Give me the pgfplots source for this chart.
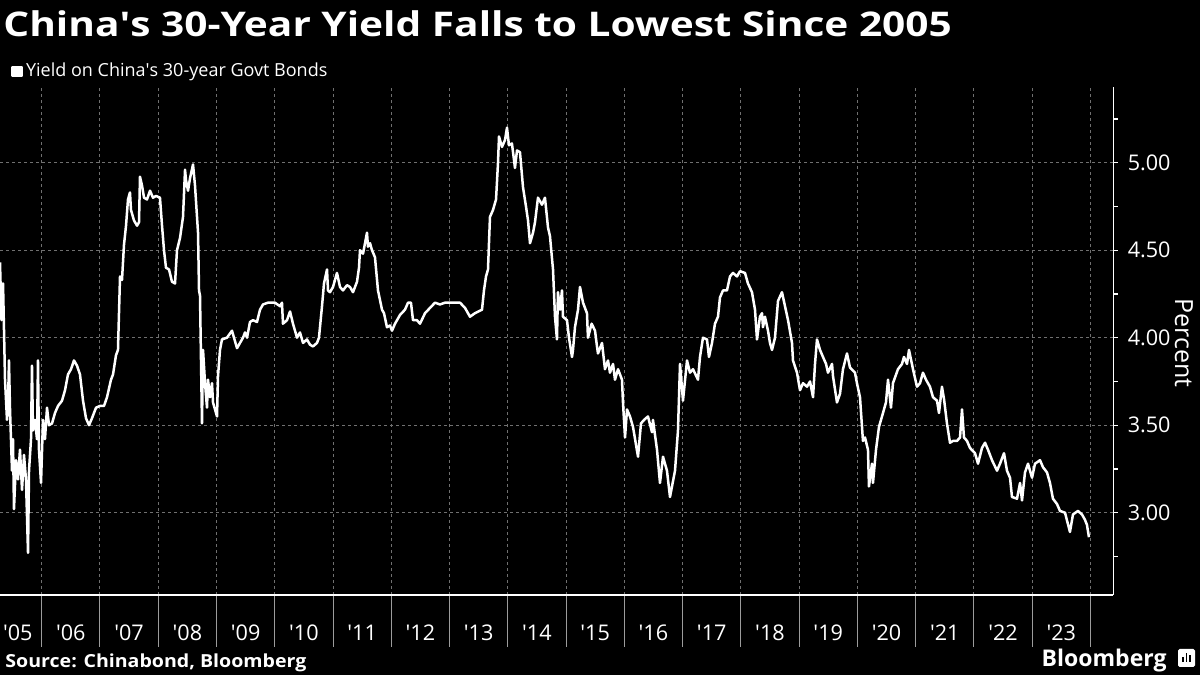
\documentclass[border=0pt]{standalone}
\usepackage{fontspec}
\setmainfont{Open Sans}
\usepackage{pgfplots}
\pgfplotsset{compat=1.18}
\usepackage{pgfplotstable}

\definecolor{gridgray}{HTML}{707070}
\definecolor{tickgray}{HTML}{9C9C9C}

\pgfplotstableread{
year yld
2005.284 4.43
2005.310 4.10
2005.336 4.31
2005.353 4.04
2005.370 3.76
2005.404 3.53
2005.421 3.61
2005.438 3.87
2005.456 3.59
2005.490 3.24
2005.507 3.42
2005.524 3.02
2005.559 3.30
2005.593 3.19
2005.627 3.36
2005.662 3.13
2005.696 3.33
2005.730 3.19
2005.765 2.77
2005.782 3.24
2005.816 3.42
2005.833 3.84
2005.850 3.47
2005.885 3.53
2005.919 3.42
2005.936 3.87
2005.953 3.36
2005.988 3.17
2006.022 3.53
2006.056 3.42
2006.091 3.60
2006.125 3.50
2006.177 3.51
2006.228 3.57
2006.280 3.61
2006.348 3.64
2006.400 3.70
2006.451 3.79
2006.503 3.82
2006.554 3.87
2006.606 3.84
2006.657 3.79
2006.709 3.64
2006.760 3.54
2006.812 3.50
2006.863 3.54
2006.932 3.60
2007.000 3.61
2007.069 3.61
2007.121 3.66
2007.189 3.76
2007.224 3.79
2007.275 3.90
2007.309 3.93
2007.344 4.35
2007.378 4.33
2007.412 4.53
2007.447 4.64
2007.481 4.79
2007.515 4.83
2007.532 4.73
2007.584 4.67
2007.636 4.64
2007.670 4.66
2007.687 4.92
2007.721 4.87
2007.756 4.80
2007.807 4.79
2007.859 4.84
2007.910 4.80
2007.962 4.81
2008.030 4.80
2008.065 4.64
2008.099 4.50
2008.133 4.40
2008.185 4.39
2008.236 4.32
2008.288 4.31
2008.322 4.50
2008.374 4.57
2008.425 4.69
2008.460 4.96
2008.477 4.90
2008.511 4.84
2008.545 4.91
2008.597 4.99
2008.631 4.87
2008.683 4.60
2008.700 4.27
2008.717 4.24
2008.751 3.51
2008.769 3.93
2008.803 3.74
2008.837 3.60
2008.854 3.76
2008.889 3.66
2008.923 3.74
2008.940 3.63
2009.009 3.55
2009.026 3.78
2009.060 3.93
2009.094 3.99
2009.180 4.00
2009.266 4.04
2009.352 3.94
2009.403 3.97
2009.455 4.00
2009.489 4.03
2009.524 4.00
2009.575 4.09
2009.627 4.10
2009.695 4.09
2009.747 4.16
2009.798 4.19
2009.884 4.20
2010.004 4.20
2010.090 4.18
2010.124 4.20
2010.141 4.08
2010.210 4.10
2010.262 4.15
2010.313 4.08
2010.382 4.00
2010.433 4.03
2010.485 3.97
2010.553 3.99
2010.605 3.96
2010.656 3.95
2010.725 3.97
2010.759 4.00
2010.811 4.18
2010.845 4.31
2010.897 4.39
2010.914 4.27
2010.948 4.26
2011.000 4.29
2011.068 4.37
2011.120 4.29
2011.171 4.27
2011.240 4.30
2011.291 4.29
2011.343 4.26
2011.412 4.32
2011.446 4.40
2011.463 4.50
2011.515 4.48
2011.583 4.60
2011.600 4.52
2011.635 4.54
2011.669 4.50
2011.720 4.46
2011.772 4.27
2011.841 4.16
2011.875 4.14
2011.926 4.06
2011.978 4.07
2012.012 4.04
2012.064 4.08
2012.150 4.13
2012.235 4.16
2012.287 4.20
2012.338 4.20
2012.373 4.10
2012.441 4.10
2012.493 4.08
2012.579 4.14
2012.664 4.17
2012.750 4.20
2012.836 4.19
2012.922 4.20
2013.059 4.20
2013.180 4.20
2013.266 4.17
2013.351 4.12
2013.437 4.14
2013.557 4.16
2013.591 4.27
2013.626 4.35
2013.660 4.39
2013.694 4.69
2013.746 4.73
2013.798 4.79
2013.832 5.00
2013.849 5.15
2013.900 5.09
2013.952 5.13
2013.986 5.20
2014.020 5.10
2014.071 5.11
2014.123 4.97
2014.158 5.07
2014.209 5.06
2014.261 4.86
2014.312 4.75
2014.347 4.67
2014.381 4.54
2014.433 4.60
2014.467 4.66
2014.518 4.80
2014.587 4.76
2014.638 4.80
2014.690 4.63
2014.724 4.58
2014.776 4.39
2014.810 4.12
2014.844 3.99
2014.861 4.26
2014.896 4.16
2014.930 4.27
2014.947 4.12
2015.016 4.10
2015.050 4.00
2015.102 3.89
2015.119 3.93
2015.153 4.06
2015.205 4.16
2015.239 4.29
2015.291 4.20
2015.359 4.14
2015.376 4.00
2015.439 4.08
2015.497 4.04
2015.531 3.95
2015.548 3.91
2015.617 3.97
2015.668 3.82
2015.720 3.87
2015.754 3.80
2015.806 3.85
2015.840 3.76
2015.892 3.82
2015.960 3.76
2015.977 3.63
2016.012 3.43
2016.046 3.59
2016.097 3.55
2016.149 3.49
2016.235 3.32
2016.286 3.51
2016.338 3.53
2016.406 3.55
2016.475 3.46
2016.492 3.53
2016.561 3.36
2016.612 3.17
2016.664 3.32
2016.732 3.24
2016.784 3.09
2016.870 3.24
2016.921 3.47
2016.956 3.85
2017.007 3.64
2017.076 3.87
2017.127 3.80
2017.179 3.82
2017.264 3.76
2017.299 3.89
2017.350 4.00
2017.419 3.99
2017.453 3.89
2017.505 3.97
2017.556 4.08
2017.608 4.12
2017.642 4.23
2017.694 4.27
2017.762 4.27
2017.814 4.35
2017.865 4.37
2017.934 4.35
2017.985 4.38
2018.071 4.37
2018.122 4.31
2018.191 4.26
2018.243 4.16
2018.277 3.99
2018.328 4.12
2018.363 4.14
2018.380 4.06
2018.414 4.12
2018.466 4.04
2018.500 3.97
2018.535 3.93
2018.586 4.00
2018.638 4.21
2018.706 4.26
2018.758 4.18
2018.810 4.10
2018.878 3.97
2018.895 3.87
2018.964 3.80
2019.015 3.70
2019.067 3.74
2019.136 3.72
2019.187 3.75
2019.239 3.66
2019.273 3.85
2019.307 3.99
2019.359 3.93
2019.410 3.89
2019.462 3.85
2019.496 3.80
2019.565 3.85
2019.582 3.78
2019.650 3.63
2019.702 3.68
2019.753 3.82
2019.822 3.91
2019.873 3.83
2019.959 3.80
2019.993 3.74
2020.045 3.66
2020.096 3.41
2020.131 3.43
2020.182 3.36
2020.199 3.15
2020.251 3.28
2020.268 3.17
2020.320 3.36
2020.371 3.49
2020.440 3.57
2020.491 3.63
2020.526 3.76
2020.577 3.60
2020.611 3.74
2020.697 3.82
2020.766 3.85
2020.800 3.89
2020.852 3.85
2020.886 3.93
2020.955 3.82
2021.023 3.72
2021.075 3.74
2021.126 3.80
2021.178 3.76
2021.246 3.72
2021.298 3.66
2021.367 3.64
2021.401 3.57
2021.452 3.72
2021.487 3.65
2021.538 3.51
2021.590 3.40
2021.641 3.41
2021.710 3.41
2021.762 3.43
2021.796 3.59
2021.830 3.43
2021.882 3.41
2021.933 3.37
2022.019 3.34
2022.071 3.28
2022.139 3.37
2022.191 3.40
2022.242 3.36
2022.311 3.30
2022.397 3.24
2022.448 3.28
2022.517 3.34
2022.568 3.24
2022.620 3.20
2022.654 3.09
2022.740 3.08
2022.792 3.17
2022.826 3.07
2022.877 3.23
2022.929 3.28
2022.998 3.20
2023.049 3.28
2023.135 3.30
2023.186 3.26
2023.255 3.23
2023.306 3.17
2023.357 3.08
2023.426 3.05
2023.478 3.01
2023.564 3.00
2023.649 2.89
2023.701 2.99
2023.786 3.01
2023.855 2.99
2023.906 2.96
2023.941 2.93
2023.975 2.86
}\yielddata

\begin{document}
\begin{tikzpicture}
\fill[black] (0pt,0pt) rectangle (600pt,337.5pt);

% year boundaries: dashed grid in the plot, solid separators below the axis
\begin{axis}[at={(0pt,40pt)}, anchor=south west, scale only axis,
  width=556.65pt, height=254pt,
  xmin=2005.284, xmax=2024.393, ymin=2.5297, ymax=5.4326,
  axis x line*=bottom, axis y line=none,
  x axis line style={draw=none},
  xtick={2006,2007,2008,2009,2010,2011,2012,2013,2014,2015,2016,2017,2018,2019,2020,2021,2022,2023,2024},
  xticklabels={},
  tick align=outside, major tick length=26pt,
  xtick style={draw=tickgray, line width=0.5pt},
  xmajorgrids,
  major x grid style={draw=gridgray, dash pattern=on 1.5pt off 1.5pt, line width=0.5pt},
  ytick=\empty]
\end{axis}

\begin{axis}[at={(0pt,40pt)}, anchor=south west, scale only axis,
  width=556.65pt, height=254pt,
  xmin=2005.284, xmax=2024.393, ymin=2.5297, ymax=5.4326,
  axis x line*=bottom, axis y line*=right,
  axis line style={white, line width=0.6pt, -},
  xtick={2005.59,2006.5,2007.5,2008.5,2009.5,2010.5,2011.5,2012.5,2013.5,2014.5,2015.5,2016.5,2017.5,2018.5,2019.5,2020.5,2021.5,2022.5,2023.5},
  xticklabels={\textquotesingle05,\textquotesingle06,\textquotesingle07,\textquotesingle08,\textquotesingle09,\textquotesingle10,\textquotesingle11,\textquotesingle12,\textquotesingle13,\textquotesingle14,\textquotesingle15,\textquotesingle16,\textquotesingle17,\textquotesingle18,\textquotesingle19,\textquotesingle20,\textquotesingle21,\textquotesingle22,\textquotesingle23},
  xtick style={draw=none},
  ytick={3,3.5,4,4.5,5},
  minor ytick={2.75,3.25,3.75,4.25,4.75,5.25},
  ytick style={white, line width=0.6pt},
  tick align=outside, major tick length=2.2pt, minor tick length=2.2pt,
  ymajorgrids,
  major y grid style={draw=gridgray, dash pattern=on 1.5pt off 1.5pt, line width=0.5pt},
  tick label style={font=\fontsize{10.8}{12}\selectfont, text=white},
  xticklabel style={yshift=-9.3pt},
  yticklabel style={xshift=1.5pt},
  /pgf/number format/assume math mode=true,
  yticklabel={\pgfmathprintnumber[fixed, fixed zerofill, precision=2]{\tick}},
  legend style={at={(axis description cs:0,1)}, anchor=south west,
    xshift=5.5pt, yshift=3.4pt, draw=none, fill=none, inner sep=0pt,
    text=white, font=\fontsize{9}{10.5}\selectfont, column sep=1.5pt,
    nodes={inner sep=0pt}},
  legend image code/.code={\fill[white] (0pt,-2.3pt) rectangle (4.6pt,2.3pt);}
]
\addplot[white, line width=1.25pt, line join=round, mark=none] table[x=year, y=yld] {\yielddata};
\addlegendentry{Yield on China\textquotesingle s 30-year Govt Bonds}
\end{axis}

% title
\node[anchor=base west, inner sep=0pt, text=white, font=\fontsize{17}{20}\selectfont\bfseries]
  at (1.5pt,319pt) {\scalebox{1.195}[1]{China\textquotesingle s 30-Year Yield Falls to Lowest Since 2005}};
% axis title
\node[rotate=-90, inner sep=0pt, text=white, font=\fontsize{12.5}{14}\selectfont]
  at (592pt,166pt) {Percent};
% source
\node[anchor=base west, inner sep=0pt, text=white, font=\fontsize{9}{11}\selectfont\bfseries]
  at (2.5pt,3.5pt) {\scalebox{1.087}[1]{Source: Chinabond, Bloomberg}};
% logo
\node[anchor=base east, inner sep=0pt, text=white, font=\fontsize{11.5}{13}\selectfont\bfseries]
  at (583.5pt,4.5pt) {Bloomberg};
\fill[white, rounded corners=0.8pt] (589pt,4pt) rectangle (597.5pt,13pt);
\fill[black] (591pt,6.5pt) rectangle (591.8pt,9pt);
\fill[black] (592.8pt,6.5pt) rectangle (593.6pt,11pt);
\fill[black] (594.6pt,6.5pt) rectangle (595.4pt,10pt);

\pgfresetboundingbox
\useasboundingbox (0pt,0pt) rectangle (600pt,337.5pt);
\end{tikzpicture}
\end{document}
